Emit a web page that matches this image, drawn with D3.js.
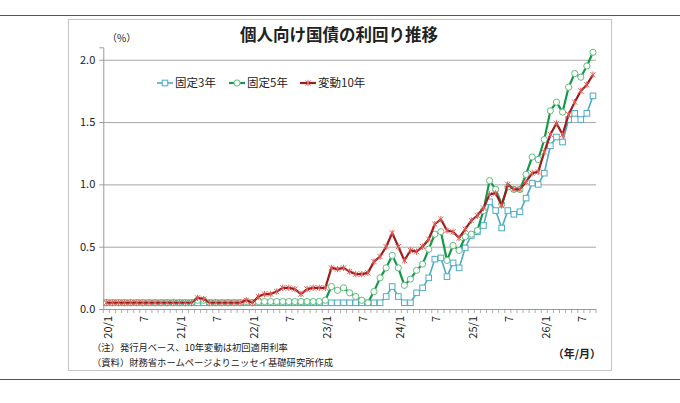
<!DOCTYPE html>
<html><head><meta charset="utf-8">
<script src="https://cdn.jsdelivr.net/npm/d3@7/dist/d3.min.js"></script>
<style>body{margin:0;background:#fff;}svg{display:block;}</style>
</head><body>
<svg id="chart" width="680" height="403"></svg>
<script>
// ---- data ----
const categories = [
 "20/1","20/2","20/3","20/4","20/5","20/6","20/7","20/8","20/9","20/10","20/11","20/12",
 "21/1","21/2","21/3","21/4","21/5","21/6","21/7","21/8","21/9","21/10","21/11","21/12",
 "22/1","22/2","22/3","22/4","22/5","22/6","22/7","22/8","22/9","22/10","22/11","22/12",
 "23/1","23/2","23/3","23/4","23/5","23/6","23/7","23/8","23/9","23/10","23/11","23/12",
 "24/1","24/2","24/3","24/4","24/5","24/6","24/7","24/8","24/9","24/10","24/11","24/12",
 "25/1","25/2","25/3","25/4","25/5","25/6","25/7","25/8","25/9","25/10","25/11","25/12",
 "26/1","26/2","26/3","26/4","26/5","26/6","26/7","26/8","26/9"];
const fixed3 = [
 0.05,0.05,0.05,0.05,0.05,0.05,0.05,0.05,0.05,0.05,0.05,0.05,
 0.05,0.05,0.05,0.05,0.05,0.05,0.05,0.05,0.05,0.05,0.05,0.05,
 0.05,0.05,0.05,0.05,0.05,0.05,0.05,0.05,0.05,0.05,0.05,0.05,
 0.05,0.05,0.05,0.05,0.05,0.05,0.05,0.05,0.05,0.05,0.10,0.18,
 0.10,0.05,0.05,0.13,0.17,0.25,0.40,0.41,0.26,0.37,0.33,0.49,
 0.59,0.62,0.67,0.86,0.79,0.65,0.79,0.76,0.78,0.89,1.01,1.00,
 1.09,1.31,1.38,1.34,1.52,1.57,1.52,1.57,1.71];
const fixed5 = [
 0.05,0.05,0.05,0.05,0.05,0.05,0.05,0.05,0.05,0.05,0.05,0.05,
 0.05,0.05,0.05,0.07,0.07,0.05,0.05,0.05,0.05,0.05,0.05,0.06,
 0.05,0.06,0.06,0.06,0.06,0.06,0.06,0.06,0.06,0.06,0.06,0.06,
 0.07,0.18,0.15,0.17,0.13,0.10,0.07,0.05,0.14,0.25,0.33,0.43,
 0.33,0.19,0.24,0.31,0.36,0.48,0.60,0.62,0.39,0.51,0.47,0.58,
 0.60,0.63,0.79,1.03,0.96,0.84,0.98,0.96,0.96,1.08,1.22,1.20,
 1.36,1.59,1.66,1.58,1.78,1.89,1.86,1.95,2.06];
const floating10 = [
 0.05,0.05,0.05,0.05,0.05,0.05,0.05,0.05,0.05,0.05,0.05,0.05,
 0.05,0.05,0.05,0.09,0.08,0.05,0.05,0.05,0.05,0.05,0.05,0.07,
 0.05,0.10,0.12,0.12,0.14,0.17,0.17,0.16,0.12,0.16,0.17,0.17,
 0.17,0.33,0.32,0.33,0.30,0.28,0.28,0.29,0.38,0.42,0.50,0.61,
 0.50,0.39,0.47,0.46,0.50,0.56,0.68,0.72,0.63,0.62,0.57,0.64,
 0.71,0.75,0.81,0.92,0.93,0.83,1.00,0.96,0.96,1.02,1.09,1.10,
 1.26,1.40,1.49,1.40,1.56,1.66,1.75,1.80,1.88];
const seriesNames = ["固定3年","固定5年","変動10年"];
const tickCats  = ["20/1","20/7","21/1","21/7","22/1","22/7","23/1","23/7","24/1","24/7","25/1","25/7","26/1","26/7"];
const tickTexts = ["20/1","7","21/1","7","22/1","7","23/1","7","24/1","7","25/1","7","26/1","7"];
const yTicks = [0,0.5,1.0,1.5,2.0];
const titleText = "個人向け国債の利回り推移";
const noteTexts = ["（注）発行月ベース、10年変動は初回適用利率","（資料）財務省ホームページよりニッセイ基礎研究所作成"];

// ---- drawing ----
const FONT = "'Noto Sans CJK JP','Noto Sans',sans-serif";
const svg = d3.select("#chart").style("font-family", FONT);
const L = 103.3, R = 596, T = 47.3, B = 309;

// page rules & frame
svg.append("line").attr("x1",0).attr("x2",680).attr("y1",15.5).attr("y2",15.5).attr("stroke","#555").attr("stroke-width",1.2);
svg.append("line").attr("x1",0).attr("x2",680).attr("y1",379.5).attr("y2",379.5).attr("stroke","#555").attr("stroke-width",1.2);
svg.append("rect").attr("x",68.5).attr("y",19.5).attr("width",543).attr("height",351).attr("fill","none").attr("stroke","#c4c4c4");

const x = d3.scaleBand().domain(categories).range([L, R]).padding(0);
const bw = x.bandwidth();
const cx = c => x(c) + bw/2;
const y = d3.scaleLinear().domain([0, 2.1]).range([B, T]);

// gridlines
svg.append("g").selectAll("line").data(yTicks.filter(v => v > 0)).join("line")
  .attr("x1", L).attr("x2", R).attr("y1", d => y(d)+0.5).attr("y2", d => y(d)+0.5)
  .attr("stroke", "#a6a6a6").attr("stroke-width", 1);

// y axis
const yAxis = svg.append("g").attr("transform", `translate(${L},0)`)
  .call(d3.axisLeft(y).tickValues(yTicks).tickFormat(d3.format(".1f")).tickSize(4).tickPadding(4));
yAxis.select(".domain").attr("stroke","#999");
yAxis.selectAll(".tick line").attr("stroke","#999");
yAxis.selectAll("text").attr("font-size", 11).attr("fill","#222").style("font-family", FONT);

// x axis (labels only through axis), then monthly ticks
const xAxis = svg.append("g").attr("transform", `translate(0,${B})`)
  .call(d3.axisBottom(x).tickValues(tickCats).tickFormat((d,i) => tickTexts[i]).tickSize(0).tickPadding(0));
xAxis.select(".domain").remove();
xAxis.selectAll(".tick text")
  .attr("transform", "translate(1.5,7) rotate(-90)")
  .attr("text-anchor", "end").attr("dy", "0.35em").attr("y", 0).attr("x", 0)
  .attr("font-size", 11).attr("fill", "#222").style("font-family", FONT);
svg.append("line").attr("x1", L).attr("x2", R).attr("y1", B+0.5).attr("y2", B+0.5).attr("stroke", "#999");
const boundaries = categories.map(c => x(c)).concat([R]);
svg.append("g").selectAll("line").data(boundaries).join("line")
  .attr("x1", d => d).attr("x2", d => d).attr("y1", B).attr("y2", B+4)
  .attr("stroke", "#999").attr("stroke-width", 0.8);

// series
const series = [
  {name: seriesNames[0], values: fixed3, line: "#4bacc6", mk: "#4bacc6", width: 1.6, marker: "square"},
  {name: seriesNames[1], values: fixed5, line: "#14994a", mk: "#5cbf7c", width: 2.2, marker: "circle"},
  {name: seriesNames[2], values: floating10, line: "#9c1f1f", mk: "#e0605a", width: 2.2, marker: "star"}
];
const lineGen = d3.line().x((d,i) => cx(categories[i])).y(d => y(d));

function drawMarker(g, type, color) {
  if (type === "square") {
    g.append("rect").attr("x",-2.8).attr("y",-2.8).attr("width",5.6).attr("height",5.6)
      .attr("fill","#fff").attr("stroke",color).attr("stroke-width",1);
  } else if (type === "circle") {
    g.append("circle").attr("r",3.1).attr("fill","#fff").attr("stroke",color).attr("stroke-width",1);
  } else {
    g.append("path").attr("d","M-2.6,-2.6L2.6,2.6M-2.6,2.6L2.6,-2.6M0,-3.2L0,3.2")
      .attr("stroke",color).attr("stroke-width",1).attr("fill","none");
  }
}

series.forEach(s => {
  const g = svg.append("g");
  g.append("path").datum(s.values).attr("d", lineGen)
    .attr("fill","none").attr("stroke", s.line).attr("stroke-width", s.width).attr("stroke-linejoin","round");
  g.selectAll("g.m").data(s.values).join("g").attr("class","m")
    .attr("transform", (d,i) => `translate(${cx(categories[i])},${y(d)})`)
    .each(function(){ drawMarker(d3.select(this), s.marker, s.mk); });
});

// legend
const legendX = [157, 229, 300];
series.forEach((s, i) => {
  const g = svg.append("g").attr("transform", `translate(${legendX[i]},83)`);
  g.append("line").attr("x1",0).attr("x2",16).attr("y1",0).attr("y2",0).attr("stroke", s.line).attr("stroke-width", s.width);
  const m = g.append("g").attr("transform","translate(8,0)");
  drawMarker(m, s.marker, s.mk);
  g.append("text").attr("x",18).attr("y",0).attr("dy","0.36em").attr("font-size",11.5).attr("fill","#222").text(s.name);
});

// title & labels
svg.append("text").attr("x",339).attr("y",41).attr("text-anchor","middle")
  .attr("font-size",16.5).attr("font-weight","bold").attr("fill","#222").text(titleText);
svg.append("text").attr("x",107).attr("y",42).attr("font-size",10).attr("fill","#222").text("（%）");
svg.append("text").attr("x",92).attr("y",351).attr("font-size",9.3).attr("fill","#222").text(noteTexts[0]);
svg.append("text").attr("x",92).attr("y",366).attr("font-size",9.3).attr("fill","#222").text(noteTexts[1]);
svg.append("text").attr("x",601).attr("y",358).attr("text-anchor","end").attr("font-size",11)
  .attr("font-weight","bold").attr("fill","#222").text("（年/月）");
</script>
</body></html>
